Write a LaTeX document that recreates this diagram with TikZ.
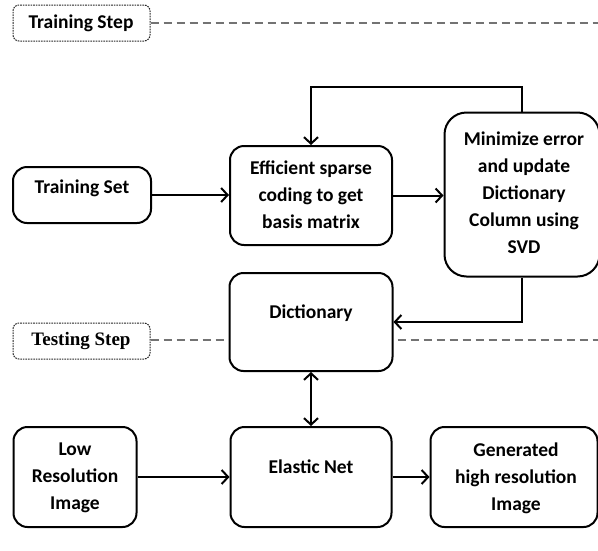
\documentclass[tikz,border=0pt]{standalone}
\usepackage{fontspec}
\setmainfont{Carlito}
\newfontfamily\timesf{Liberation Serif}
\usetikzlibrary{arrows.meta}
\begin{document}
\begin{tikzpicture}[x=1pt,y=-1pt,
 box/.style={draw, line width=2pt, rounded corners=14pt, fill=white, inner sep=0pt},
 txt/.style={font=\bfseries\fontsize{19.5}{27}\selectfont, align=center, inner sep=0pt},
 stepbox/.style={draw=black!85, dash pattern=on 1.6pt off 1pt, line width=1pt, rounded corners=6pt, minimum width=137pt, minimum height=36pt, fill=white, inner sep=0pt},
 sep/.style={draw=black!55, dash pattern=on 8pt off 5pt, line width=1.3pt},
 arr/.style={line width=2pt, -{Straight Barb[length=6.5pt,width=14pt]}},
]
\useasboundingbox (0,0) rectangle (598,550);
% step labels
\node[stepbox] (trs) at (81.5,23) {};
\node[txt] (trst) at (81,23) {Training Step};
\node[stepbox] (tes) at (81.5,341) {};
\node[txt, font=\timesf\bfseries\fontsize{19}{22}\selectfont] (test) at (81,341) {Testing Step};
\coordinate (r1) at (598,23);
\coordinate (r2) at (598,340);
\draw[sep] (trs.east) -- (r1);
\draw[sep] (tes.east |- r2) -- (r2);
% boxes
\node[box, minimum width=138pt, minimum height=56pt] (ts) at (82,195) {};
\node[txt] (tst) at (82,188) {Training Set};
\node[box, minimum width=162pt, minimum height=99pt] (eff) at (311,195.5) {};
\node[txt] (efft) at (311,195) {Efficient sparse\\coding to get\\basis matrix};
\node[box, rounded corners=22pt, minimum width=155pt, minimum height=164pt] (min) at (522,194.5) {};
\node[txt] (mint) at (524,193) {Minimize error\\and update\\Dictionary\\Column using\\SVD};
\node[box, minimum width=163pt, minimum height=98pt] (dict) at (311,322) {};
\node[txt] (dictt) at (311,313) {Dictionary};
\node[box, minimum width=123pt, minimum height=100pt] (low) at (75,477) {};
\node[txt] (lowt) at (75,478) {Low\\Resolution\\Image};
\node[box, minimum width=161pt, minimum height=100pt] (el) at (311,477) {};
\node[txt] (elt) at (311,467) {Elastic Net};
\node[box, minimum width=167pt, minimum height=100pt] (gen) at (514,477) {};
\node[txt] (gent) at (516,478) {Generated\\high resolution\\Image};
% connectors
\draw[arr] (ts.east) -- (ts.east -| eff.west);
\draw[arr] (eff.east) -- (eff.east -| min.west);
\draw[arr] (min.north) -- ++(0,-25) -| (eff.north);
\draw[arr] (min.south) |- (dict.east);
\draw[line width=2pt, {Straight Barb[length=6.5pt,width=14pt]}-{Straight Barb[length=6.5pt,width=14pt]}] (dict.south) -- (el.north);
\draw[arr] (low.east) -- (low.east -| el.west);
\draw[arr] (el.east) -- (el.east -| gen.west);
\end{tikzpicture}
\end{document}
